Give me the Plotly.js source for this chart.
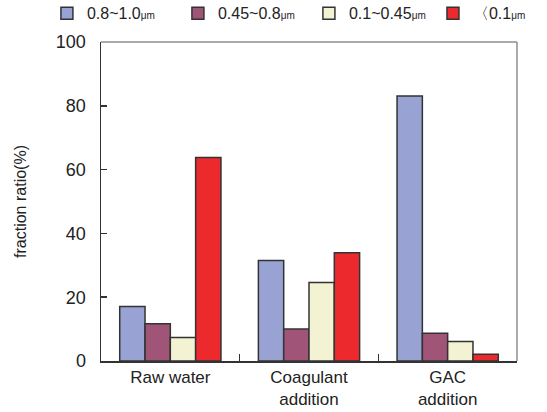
<!DOCTYPE html>
<html>
<head>
<meta charset="utf-8">
<script src="https://cdn.plot.ly/plotly-3.0.1.min.js"></script>
<style>body{margin:0;padding:0;background:#fff;} #chart{width:547px;height:412px;}</style>
</head>
<body>
<div id="chart"></div>
<script>
const categories = ["Raw water", "Coagulant<br>addition", "GAC<br>addition"];
const seriesNames = ["0.8~1.0<span style='font-size:10px'>μm</span>", "0.45~0.8<span style='font-size:10px'>μm</span>", "0.1~0.45<span style='font-size:10px'>μm</span>", "〈0.1<span style='font-size:10px'>μm</span>"];
const s1 = [17.1, 31.5, 83.1];
const s2 = [11.7, 10.0, 8.7];
const s3 = [7.4, 24.6, 6.1];
const s4 = [63.8, 33.9, 2.1];
const yTicks = [0, 20, 40, 60, 80, 100];
const colors = ["#98A3D3", "#A05478", "#F3F3D3", "#EC2A2E"];

const values = [s1, s2, s3, s4];
const traces = values.map((v, i) => ({
  type: "bar",
  name: seriesNames[i],
  x: categories,
  y: v,
  legend: i === 3 ? "legend2" : "legend",
  marker: {color: colors[i], line: {color: "#333333", width: 1.5}}
}));

const legendBase = {
  orientation: "h",
  xanchor: "left",
  y: 1.09, yanchor: "middle",
  font: {size: 16, color: "#222"},
  itemwidth: 30,
  entrywidth: 86, entrywidthmode: "pixels",
  traceorder: "normal",
  bgcolor: "rgba(0,0,0,0)"
};

const layout = {
  width: 547, height: 412,
  margin: {l: 101, r: 30, t: 42, b: 51, autoexpand: false},
  paper_bgcolor: "#fff", plot_bgcolor: "#fff",
  font: {family: "Liberation Sans, Arial, sans-serif", color: "#222", size: 15},
  barmode: "group",
  bargap: 0.27,
  bargroupgap: 0,
  showlegend: true,
  legend: Object.assign({}, legendBase, {x: -0.13}),
  legend2: Object.assign({}, legendBase, {x: 0.798, entrywidth: 60}),
  xaxis: {
    type: "category",
    showline: true, linecolor: "#333", linewidth: 1.5,
    ticks: "inside", tickson: "boundaries", ticklen: 7, tickcolor: "#333", tickwidth: 1.5,
    tickfont: {size: 17, color: "#222"},
    showgrid: false, zeroline: false
  },
  yaxis: {
    range: [0, 100],
    tickvals: yTicks,
    showline: true, linecolor: "#333", linewidth: 1.5,
    ticks: "inside", ticklen: 6, tickcolor: "#333", tickwidth: 1.5,
    ticklabelstandoff: 10,
    tickfont: {size: 18, color: "#222"},
    showgrid: false, zeroline: false,
    title: {text: "fraction ratio(%)", font: {size: 16, color: "#222"}, standoff: 25}
  },
  shapes: [
    {type: "line", xref: "paper", yref: "paper", x0: 0, x1: 1, y0: 1, y1: 1, line: {color: "#8a8f96", width: 1.5}},
    {type: "line", xref: "paper", yref: "paper", x0: 1, x1: 1, y0: 0, y1: 1, line: {color: "#8a8f96", width: 1.5}}
  ]
};

Plotly.newPlot("chart", traces, layout, {displayModeBar: false, staticPlot: true});
</script>
</body>
</html>
